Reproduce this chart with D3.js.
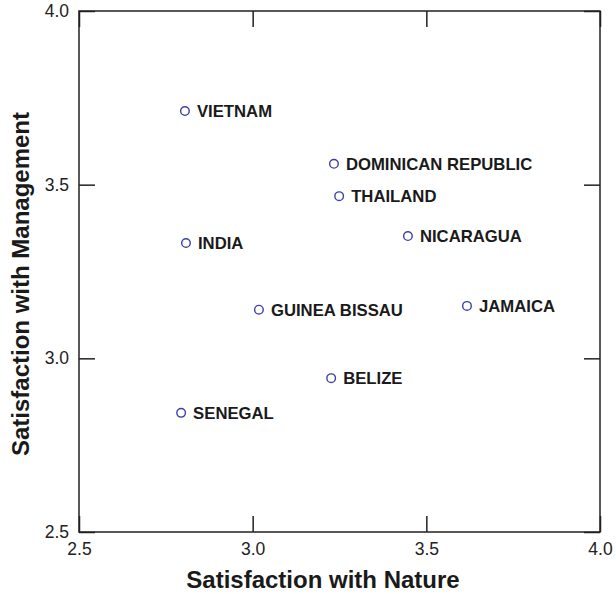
<!DOCTYPE html>
<html>
<head>
<meta charset="utf-8">
<script src="https://cdn.jsdelivr.net/npm/d3@7/dist/d3.min.js"></script>
<style>
  body { margin: 0; background: #fff; }
  svg { display: block; font-family: "Liberation Sans", Arial, Helvetica, sans-serif; }
  .axis .domain { display: none; }
  .axis line { stroke: #222; stroke-width: 1.5; }
  .axis text { font-size: 17.5px; fill: #222; }
</style>
</head>
<body>
<div id="chart"></div>
<script>
var countries = ["VIETNAM", "DOMINICAN REPUBLIC", "THAILAND", "INDIA", "NICARAGUA",
                 "GUINEA BISSAU", "JAMAICA", "BELIZE", "SENEGAL"];
var natureScores = [2.805, 3.234, 3.249, 2.808, 3.447, 3.018, 3.617, 3.226, 2.794];
var managementScores = [3.712, 3.560, 3.467, 3.332, 3.352, 3.140, 3.151, 2.943, 2.843];
var tickValues = [2.5, 3.0, 3.5, 4.0];

var width = 616;
var height = 594;

var margin = {
   top: 11,
   left: 79,
   bottom: 62,
   right: 16
};

var innerW = width - margin.left - margin.right;
var innerH = height - margin.top - margin.bottom;

var xScale = d3.scaleLinear().domain([2.5, 4.0]).range([0, innerW]);
var yScale = d3.scaleLinear().domain([2.5, 4.0]).range([innerH, 0]);

var svg = d3.select("#chart")
   .append("svg")
   .attr("width", width)
   .attr("height", height);

var plot = svg.append("g")
   .attr("transform", "translate(" + margin.left + "," + margin.top + ")");

// inward ticks on every side
plot.append("g")
   .attr("class", "axis")
   .attr("transform", "translate(0," + innerH + ")")
   .call(d3.axisBottom(xScale).tickValues(tickValues).tickFormat(d3.format(".1f"))
      .tickSizeInner(-16).tickSizeOuter(0).tickPadding(11));

plot.append("g")
   .attr("class", "axis")
   .call(d3.axisLeft(yScale).tickValues(tickValues).tickFormat(d3.format(".1f"))
      .tickSizeInner(-16).tickSizeOuter(0).tickPadding(10));

plot.append("g")
   .attr("class", "axis")
   .call(d3.axisTop(xScale).tickValues(tickValues).tickFormat("")
      .tickSizeInner(-16).tickSizeOuter(0));

plot.append("g")
   .attr("class", "axis")
   .attr("transform", "translate(" + innerW + ",0)")
   .call(d3.axisRight(yScale).tickValues(tickValues).tickFormat("")
      .tickSizeInner(-16).tickSizeOuter(0));

// frame
plot.append("rect")
   .attr("width", innerW)
   .attr("height", innerH)
   .attr("fill", "none")
   .attr("stroke", "#222")
   .attr("stroke-width", 1.5);

// points
var pts = plot.selectAll(".pt")
   .data(countries)
   .enter().append("g")
   .attr("class", "pt")
   .attr("transform", function (d, i) {
      return "translate(" + xScale(natureScores[i]) + "," + yScale(managementScores[i]) + ")";
   });

pts.append("circle")
   .attr("r", 4.3)
   .attr("fill", "none")
   .attr("stroke", "#3b40a8")
   .attr("stroke-width", 1.4);

pts.append("text")
   .attr("x", 12)
   .attr("dy", "0.36em")
   .attr("font-size", "16.7px")
   .attr("font-weight", "bold")
   .attr("fill", "#1a1a1a")
   .text(function (d) { return d; });

// axis titles
svg.append("text")
   .attr("x", 323)
   .attr("y", 588)
   .attr("text-anchor", "middle")
   .attr("font-size", "24px")
   .attr("font-weight", "bold")
   .attr("fill", "#1a1a1a")
   .text("Satisfaction with Nature");

svg.append("text")
   .attr("transform", "translate(29,284) rotate(-90)")
   .attr("text-anchor", "middle")
   .attr("font-size", "24px")
   .attr("font-weight", "bold")
   .attr("fill", "#1a1a1a")
   .text("Satisfaction with Management");
</script>
</body>
</html>
